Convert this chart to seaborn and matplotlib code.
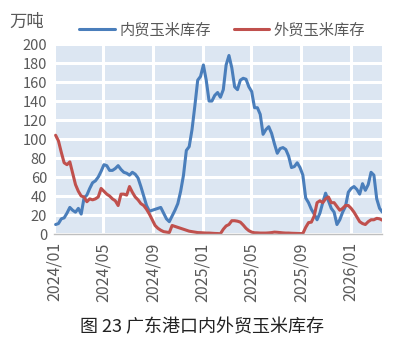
import matplotlib

matplotlib.use("Agg")
import matplotlib.dates as mdates
import matplotlib.pyplot as plt
import pandas as pd
import seaborn as sns

# weekly stocks, 10k tonnes
dates = pd.date_range("2024-01-05", periods=116, freq="7D")
domestic = [
    10, 11, 16, 17, 22, 28, 25, 23, 27, 21,
    38, 41, 48, 54, 56, 60, 66, 73, 72, 67,
    67, 69, 72, 68, 65, 64, 62, 65, 63, 59,
    50, 40, 30, 24, 25, 26, 27, 28, 22, 16,
    13, 19, 25, 32, 45, 62, 88, 92, 110, 135,
    162, 166, 178, 162, 140, 140, 146, 149, 144, 152,
    178, 188, 175, 155, 152, 162, 164, 163, 155, 150,
    133, 133, 126, 105, 110, 113, 106, 95, 85, 90,
    91, 89, 82, 70, 71, 75, 70, 62, 38, 33,
    26, 21, 15, 22, 33, 43, 35, 27, 23, 10,
    15, 23, 29, 44, 48, 50, 47, 42, 53, 46,
    52, 65, 62, 37, 27, 23,
]
foreign = [
    104, 98, 86, 75, 73, 76, 64, 52, 45, 40,
    39, 34, 37, 36, 37, 39, 48, 45, 42, 40,
    37, 35, 30, 42, 42, 41, 50, 44, 39, 36,
    32, 30, 26, 21, 15, 9, 6, 4, 2.5, 2,
    1.5, 9, 8, 7, 6, 5, 4, 3, 2.5, 2,
    1.5, 1.4, 1.2, 1, 1, 0.8, 0.6, 0.5, 0.3, 5,
    8.5, 10, 14, 14, 13.5, 12.5, 9.5, 6, 3.5, 2,
    1.3, 1.2, 1, 1, 1, 1.2, 1.5, 2, 1.8, 1.5,
    1.2, 1, 1, 0.8, 0.7, 0.6, 0.5, 0.5, 7, 12,
    12.5, 19, 33, 35, 33, 37, 39, 33, 33, 29,
    25, 27, 30, 30, 27, 23, 18, 13, 11, 10,
    13, 15, 15, 16.5, 16, 14.5,
]
series_names = ["内贸玉米库存", "外贸玉米库存"]
colors = ["#4a7ebb", "#c0504d"]
tick_dates = pd.date_range("2024-01-01", "2026-01-01", freq="4MS")
y_ticks = list(range(0, 201, 20))

df = pd.concat(
    [
        pd.DataFrame({"date": dates, "value": domestic, "series": series_names[0]}),
        pd.DataFrame({"date": dates, "value": foreign, "series": series_names[1]}),
    ],
    ignore_index=True,
)

sns.set_style("white")
plt.rcParams["font.family"] = ["Noto Sans CJK SC", "DejaVu Sans"]

fig = plt.figure(figsize=(4.16, 3.57), dpi=100)
ax = fig.add_axes([0.1298, 0.3445, 0.7885, 0.532])
ax.set_facecolor("#dce6f2")

sns.lineplot(
    data=df, x="date", y="value", hue="series", palette=colors,
    linewidth=2.2, ax=ax, legend=False,
)

ax.set_xlim(pd.Timestamp("2024-01-01"), pd.Timestamp("2026-03-19"))
ax.set_ylim(0, 200)
ax.set_yticks(y_ticks)
ax.set_xticks(tick_dates)
ax.xaxis.set_major_formatter(mdates.DateFormatter("%Y/%m"))
ax.grid(True, color="white", linewidth=2.2)
ax.set_axisbelow(True)
for side in ["top", "right", "left"]:
    ax.spines[side].set_visible(False)
ax.spines["bottom"].set_color("#bfbfbf")
ax.spines["bottom"].set_linewidth(1.0)
ax.tick_params(axis="x", direction="out", length=4, color="#bfbfbf",
               labelsize=11.5, labelcolor="#595959", rotation=90, pad=2)
ax.tick_params(axis="y", length=0, labelsize=10.5, labelcolor="#595959", pad=5)
ax.set_xlabel("")
ax.set_ylabel("")

handles = [plt.Line2D([], [], color=c, linewidth=2.2) for c in colors]
fig.legend(handles, series_names, loc="center", bbox_to_anchor=(0.534, 0.916),
           ncol=2, frameon=False, fontsize=11, handlelength=2.3,
           handletextpad=0.3, columnspacing=1.5, labelcolor="#595959")

fig.text(0.022, 0.938, "万吨", ha="left", va="center", fontsize=12.5, color="#595959")
fig.text(0.486, 0.084, "图 23 广东港口内外贸玉米库存", ha="center", va="center",
         fontsize=13, color="#222222")

fig.savefig("out.png", dpi=100)
